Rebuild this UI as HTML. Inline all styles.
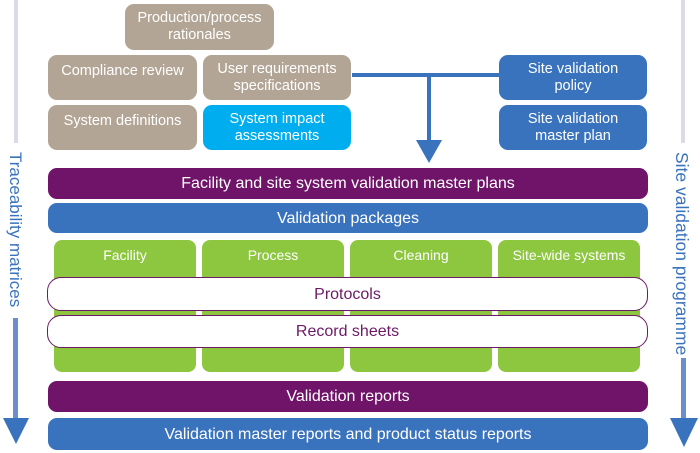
<!DOCTYPE html>
<html><head><meta charset="utf-8"><style>
body{margin:0;width:700px;height:453px;background:#fff;position:relative;overflow:hidden;font-family:"Liberation Sans",sans-serif;}
.b{position:absolute;box-sizing:border-box;border-radius:9px;color:#fff;display:flex;align-items:center;justify-content:center;text-align:center;font-size:14.5px;line-height:17px;}
.t{background:#b2a595}
.bl{background:#3a73bd}
.pu{background:#701469;font-size:16px}
.g{background:#8dc63f;align-items:flex-start;padding-top:7px;font-size:14px;border-radius:8px}
.w{background:#fff;border:1.5px solid #6d1a66;color:#6d1a66;border-radius:14px;font-size:16px}
.vt{position:absolute;color:#3a73bd;font-size:17px;white-space:nowrap;transform-origin:0 0;transform:rotate(90deg);}
</style></head><body>
<div style="position:absolute;left:14px;top:0;width:4px;height:143px;background:#d9dbe9"></div>
<div style="position:absolute;left:681px;top:0;width:4px;height:143px;background:#d9dbe9"></div>
<div class="vt" style="left:25px;top:152px">Traceability matrices</div>
<div class="vt" style="left:692px;top:152px;font-size:17.5px">Site validation programme</div>
<div style="position:absolute;left:13px;top:318px;width:5px;height:102px;background:#6b8fcc"></div>
<div style="position:absolute;left:3px;top:418px;width:0;height:0;border-left:13px solid transparent;border-right:13px solid transparent;border-top:26px solid #3a73bd"></div>
<div style="position:absolute;left:681px;top:358px;width:5px;height:62px;background:#6b8fcc"></div>
<div style="position:absolute;left:670px;top:418px;width:0;height:0;border-left:14px solid transparent;border-right:14px solid transparent;border-top:29px solid #3a73bd"></div>

<div class="b t" style="left:125px;top:4px;width:149px;height:46px">Production/process<br>rationales</div>
<div class="b t" style="left:48px;top:55px;width:149px;height:45px;align-items:flex-start;padding-top:8px">Compliance review</div>
<div class="b t" style="left:203px;top:55px;width:148px;height:45px">User requirements<br>specifications</div>
<div class="b t" style="left:48px;top:105px;width:149px;height:45px;align-items:flex-start;padding-top:8px">System definitions</div>
<div class="b" style="left:203px;top:105px;width:148px;height:45px;background:#00aeef">System impact<br>assessments</div>
<div class="b bl" style="left:499px;top:55px;width:148px;height:45px">Site validation<br>policy</div>
<div class="b bl" style="left:499px;top:105px;width:148px;height:45px">Site validation<br>master plan</div>
<div style="position:absolute;left:352px;top:73px;width:147px;height:4px;background:#3a73bd"></div>
<div style="position:absolute;left:427px;top:73px;width:4px;height:69px;background:#3a73bd"></div>
<div style="position:absolute;left:416px;top:140px;width:0;height:0;border-left:13px solid transparent;border-right:13px solid transparent;border-top:23px solid #3a73bd"></div>

<div class="b pu" style="left:48px;top:168px;width:600px;height:31px">Facility and site system validation master plans</div>
<div class="b bl" style="left:48px;top:203px;width:600px;height:30px;font-size:16px">Validation packages</div>
<div class="b g" style="left:54px;top:240px;width:142px;height:132px">Facility</div>
<div class="b g" style="left:202px;top:240px;width:142px;height:132px">Process</div>
<div class="b g" style="left:350px;top:240px;width:142px;height:132px">Cleaning</div>
<div class="b g" style="left:498px;top:240px;width:142px;height:132px">Site-wide systems</div>
<div class="b w" style="left:47px;top:277px;width:601px;height:34px">Protocols</div>
<div class="b w" style="left:47px;top:315px;width:601px;height:33px">Record sheets</div>
<div class="b pu" style="left:48px;top:381px;width:600px;height:31px">Validation reports</div>
<div class="b bl" style="left:48px;top:418px;width:600px;height:32px;font-size:16px">Validation master reports and product status reports</div>
</body></html>
